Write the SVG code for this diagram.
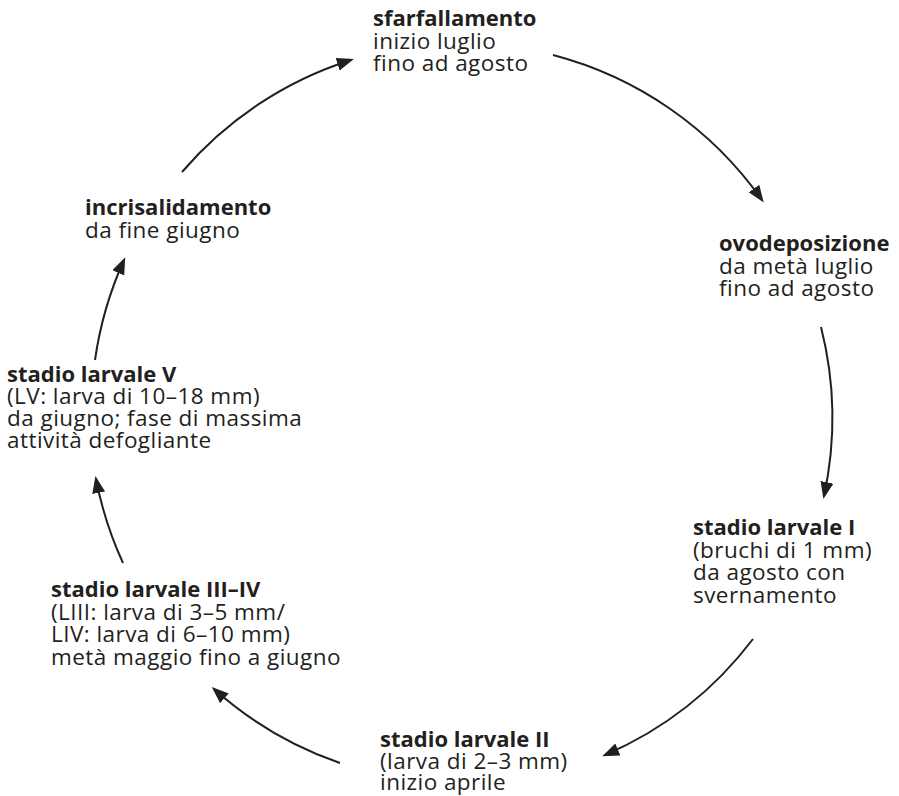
<svg xmlns="http://www.w3.org/2000/svg" width="899" height="796" viewBox="0 0 899 796">
<style>
text{font-family:"Open Sans","Noto Sans","Liberation Sans",sans-serif;font-size:22.5px;letter-spacing:0.45px;fill:#231f20}
.b{font-weight:700;font-size:22px;letter-spacing:0}
.arc{fill:none;stroke:#231f20;stroke-width:2}
</style>
<defs>
<marker id="ah" markerUnits="userSpaceOnUse" markerWidth="18" markerHeight="14" refX="14" refY="6.5" orient="auto">
<path d="M0,0 L17,6.5 L0,13 z" fill="#231f20"/>
</marker>
</defs>
<rect width="899" height="796" fill="#fff"/>
<g id="connectors">
<path class="arc" marker-end="url(#ah)" d="M182,172 A370,370 0 0 1 351,60"/>
<path class="arc" marker-end="url(#ah)" d="M553,55 A370,370 0 0 1 762,200"/>
<path class="arc" marker-end="url(#ah)" d="M821,327 A370,370 0 0 1 824,496"/>
<path class="arc" marker-end="url(#ah)" d="M753,639 A370,370 0 0 1 605,755"/>
<path class="arc" marker-end="url(#ah)" d="M340,763 A370,370 0 0 1 214,689"/>
<path class="arc" marker-end="url(#ah)" d="M123,563 A370,370 0 0 1 96,479"/>
<path class="arc" marker-end="url(#ah)" d="M95,360 A370,370 0 0 1 124,260"/>
</g>
<g id="sfarfallamento">
<text x="373" y="26"><tspan class="b">sfarfallamento</tspan><tspan x="373" dy="22.5">inizio luglio</tspan><tspan x="373" dy="22.5">fino ad agosto</tspan></text>
</g>
<g id="ovodeposizione">
<text x="719" y="251"><tspan class="b">ovodeposizione</tspan><tspan x="719" dy="22.5">da metà luglio</tspan><tspan x="719" dy="22.5">fino ad agosto</tspan></text>
</g>
<g id="stadio-larvale-I">
<text x="693" y="535"><tspan class="b">stadio larvale I</tspan><tspan x="693" dy="22.5">(bruchi di 1 mm)</tspan><tspan x="693" dy="22.5">da agosto con</tspan><tspan x="693" dy="22.5">svernamento</tspan></text>
</g>
<g id="stadio-larvale-II">
<text x="380" y="747"><tspan class="b">stadio larvale II</tspan><tspan x="380" dy="21.5">(larva di 2–3 mm)</tspan><tspan x="380" dy="21.5">inizio aprile</tspan></text>
</g>
<g id="stadio-larvale-III-IV">
<text x="51" y="597"><tspan class="b">stadio larvale III–IV</tspan><tspan x="51" dy="22.5">(LIII: larva di 3–5 mm/</tspan><tspan x="51" dy="22.5">LIV: larva di 6–10 mm)</tspan><tspan x="51" dy="22.5">metà maggio fino a giugno</tspan></text>
</g>
<g id="stadio-larvale-V">
<text x="7" y="382"><tspan class="b">stadio larvale V</tspan><tspan x="7" dy="22">(LV: larva di 10–18 mm)</tspan><tspan x="7" dy="22">da giugno; fase di massima</tspan><tspan x="7" dy="22">attività defogliante</tspan></text>
</g>
<g id="incrisalidamento">
<text x="85" y="215"><tspan class="b">incrisalidamento</tspan><tspan x="85" dy="22.5">da fine giugno</tspan></text>
</g>
</svg>
